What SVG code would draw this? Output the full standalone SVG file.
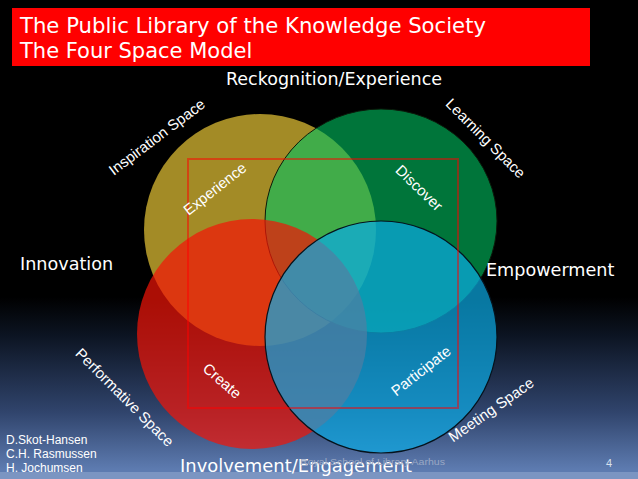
<svg xmlns="http://www.w3.org/2000/svg" width="638" height="479" viewBox="0 0 638 479">
  <defs>
    <linearGradient id="bg" x1="0" y1="0" x2="0" y2="479" gradientUnits="userSpaceOnUse">
      <stop offset="0" stop-color="#000000"/>
      <stop offset="0.62" stop-color="#000000"/>
      <stop offset="0.7" stop-color="#0c1422"/>
      <stop offset="0.86" stop-color="#30446c"/>
      <stop offset="0.98" stop-color="#5d7bb0"/>
    </linearGradient>
    <style>
      .big { font-family: "DejaVu Sans", Verdana, sans-serif; fill: #ffffff; }
      .lbl { font-family: "Liberation Sans", Arial, sans-serif; font-size: 15px; fill: #ffffff; text-anchor: middle; }
      .auth { font-family: "Liberation Sans", Arial, sans-serif; font-size: 12px; fill: #ffffff; }
    </style>
  </defs>

  <rect x="0" y="0" width="638" height="479" fill="url(#bg)"/>
  <rect x="0" y="472" width="638" height="7" fill="#7b95c2"/>

  <g id="title">
    <rect x="12" y="8" width="578" height="58" fill="#ff0000"/>
    <text class="big" x="20" y="33" font-size="21" textLength="466" lengthAdjust="spacingAndGlyphs">The Public Library of the Knowledge Society</text>
    <text class="big" x="20" y="58" font-size="21">The Four Space Model</text>
  </g>

  <g id="inspiration-space">
    <ellipse cx="260" cy="230" rx="116" ry="116" fill="#a38b26"/>
  </g>
  <g id="learning-space">
    <ellipse cx="381" cy="221" rx="116" ry="112" fill="#00c361" fill-opacity="0.6" stroke="#0a1a0a" stroke-width="1"/>
  </g>
  <g id="performative-space">
    <ellipse cx="252" cy="334" rx="115" ry="115" fill="#f41407" fill-opacity="0.7"/>
  </g>
  <g id="meeting-space">
    <ellipse cx="381" cy="337" rx="116" ry="116" fill="#0babe5" fill-opacity="0.7" stroke="#05121c" stroke-width="1.2"/>
  </g>

  <rect x="188" y="159" width="270" height="249" fill="none" stroke="#ff0000" stroke-opacity="0.5" stroke-width="2"/>

  <g id="axis-labels">
    <text class="big" x="334" y="85" font-size="17.5" text-anchor="middle">Reckognition/Experience</text>
    <text class="big" x="20" y="270" font-size="17.6">Innovation</text>
    <text class="big" x="486" y="276" font-size="17.6">Empowerment</text>
    <text class="big" x="180" y="472" font-size="18" textLength="232" lengthAdjust="spacingAndGlyphs">Involvement/Engagement</text>
  </g>

  <g id="space-labels">
    <text class="lbl" transform="translate(160,141) rotate(-37)">Inspiration Space</text>
    <text class="lbl" transform="translate(482,142) rotate(45)">Learning Space</text>
    <text class="lbl" transform="translate(121,401) rotate(45)">Performative Space</text>
    <text class="lbl" transform="translate(494,414) rotate(-35)">Meeting Space</text>
  </g>

  <g id="inner-labels">
    <text class="lbl" transform="translate(215,189) rotate(-38)" dy="5">Experience</text>
    <text class="lbl" transform="translate(419,188) rotate(44)" dy="5">Discover</text>
    <text class="lbl" transform="translate(222,381) rotate(41)" dy="5">Create</text>
    <text class="lbl" transform="translate(421,371) rotate(-38)" dy="5">Participate</text>
  </g>

  <g id="footer">
    <text class="auth" x="6" y="444">D.Skot-Hansen</text>
    <text class="auth" x="6" y="458">C.H. Rasmussen</text>
    <text class="auth" x="6" y="472">H. Jochumsen</text>
    <text x="300" y="465" font-family="Liberation Sans, Arial, sans-serif" font-size="9" fill="#9aa8c4" textLength="145" lengthAdjust="spacingAndGlyphs">Royal School of Library Aarhus</text>
    <text x="606" y="467" font-family="Liberation Sans, Arial, sans-serif" font-size="11" fill="#d8e0ee">4</text>
  </g>
</svg>
